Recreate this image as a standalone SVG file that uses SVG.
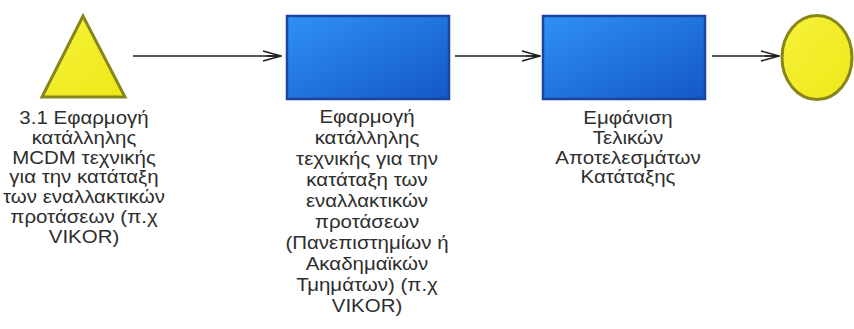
<svg xmlns="http://www.w3.org/2000/svg" width="854" height="329" viewBox="0 0 854 329">
  <defs>
    <linearGradient id="boxFill" x1="0" y1="0" x2="1" y2="1">
      <stop offset="0" stop-color="#2f90f6"/>
      <stop offset="1" stop-color="#1458c4"/>
    </linearGradient>
    <linearGradient id="yellowFill" x1="0" y1="0" x2="1" y2="1">
      <stop offset="0" stop-color="#f6f23a"/>
      <stop offset="1" stop-color="#eee818"/>
    </linearGradient>
    <marker id="chevron" viewBox="0 0 20 12" refX="19" refY="6" markerWidth="20" markerHeight="12" markerUnits="userSpaceOnUse" orient="auto">
      <path d="M1,1 L19,6 L1,11 M5,6 L19,6" fill="none" stroke="#1e1e1e" stroke-width="1.6" stroke-linejoin="miter"/>
    </marker>
  </defs>
  <style>
    .box { fill: url(#boxFill); stroke: #1a45a2; stroke-width: 2.5; }
    .shape { fill: url(#yellowFill); stroke: #86861a; stroke-width: 3; }
    .link { fill: none; stroke: #1e1e1e; stroke-width: 1.6; marker-end: url(#chevron); }
    .label { font-family: "Liberation Sans", Arial, sans-serif; font-size: 17.5px; fill: #2e2e2e; text-anchor: middle; }
  </style>
  <rect width="854" height="329" fill="#ffffff"/>

  <g id="connectors">
    <line class="link" x1="133" y1="56" x2="281" y2="56"/>
    <line class="link" x1="455" y1="56" x2="540" y2="56"/>
    <line class="link" x1="712" y1="56" x2="779" y2="56"/>
  </g>

  <g id="start">
    <polygon class="shape" points="83,16 42,97 125,97"/>
    <g transform="translate(84,0) scale(1.17,1)">
      <text class="label" x="0" y="124">3.1 Εφαρμογή</text>
      <text class="label" x="0" y="143.8">κατάλληλης</text>
      <text class="label" x="0" y="163.6">MCDM τεχνικής</text>
      <text class="label" x="0" y="183.4">για την κατάταξη</text>
      <text class="label" x="0" y="203.2">των εναλλακτικών</text>
      <text class="label" x="0" y="223">προτάσεων (π.χ</text>
      <text class="label" x="0" y="242.8">VIKOR)</text>
    </g>
  </g>

  <g id="apply">
    <rect class="box" x="287" y="16" width="162" height="83"/>
    <g transform="translate(367,0) scale(1.17,1)">
      <text class="label" x="0" y="123">Εφαρμογή</text>
      <text class="label" x="0" y="144">κατάλληλης</text>
      <text class="label" x="0" y="165">τεχνικής για την</text>
      <text class="label" x="0" y="186">κατάταξη των</text>
      <text class="label" x="0" y="207">εναλλακτικών</text>
      <text class="label" x="0" y="228">προτάσεων</text>
      <text class="label" x="0" y="249">(Πανεπιστημίων ή</text>
      <text class="label" x="0" y="270">Ακαδημαϊκών</text>
      <text class="label" x="0" y="291">Τμημάτων) (π.χ</text>
      <text class="label" x="0" y="312">VIKOR)</text>
    </g>
  </g>

  <g id="results">
    <rect class="box" x="543" y="16" width="162" height="83"/>
    <g transform="translate(628,0) scale(1.17,1)">
      <text class="label" x="0" y="124">Εμφάνιση</text>
      <text class="label" x="0" y="143.8">Τελικών</text>
      <text class="label" x="0" y="163.6">Αποτελεσμάτων</text>
      <text class="label" x="0" y="183.4">Κατάταξης</text>
    </g>
  </g>

  <g id="end">
    <ellipse class="shape" cx="817" cy="57.5" rx="35" ry="42"/>
  </g>
</svg>
